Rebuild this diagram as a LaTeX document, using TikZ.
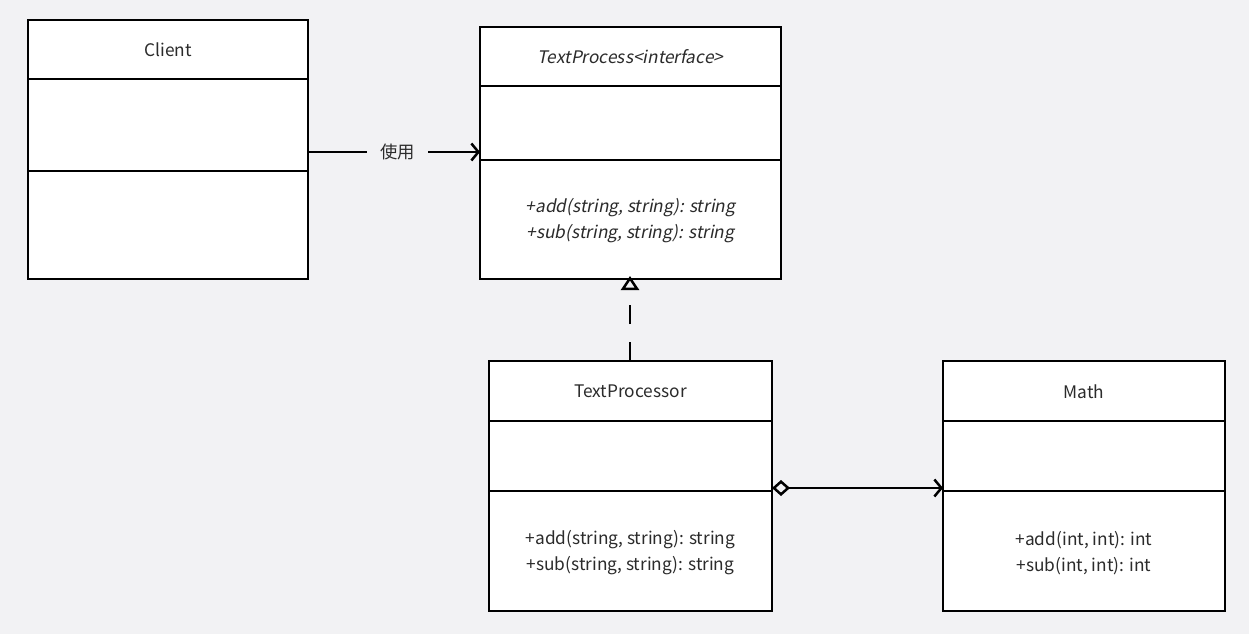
\documentclass[tikz,border=0pt]{standalone}
\usepackage{fontspec}
\setmainfont{Noto Sans CJK SC}[AutoFakeSlant=0.2]
\usetikzlibrary{arrows.meta}
\definecolor{bg}{HTML}{F2F2F4}
\definecolor{txt}{HTML}{2B2B2B}
\begin{document}
\begin{tikzpicture}[x=1pt,y=-1pt,
  umlbox/.style={draw=black,line width=2.5pt,fill=white,anchor=north west,inner sep=0pt,outer sep=0pt},
  divider/.style={line width=2.5pt},
  lbl/.style={text=txt,font=\fontsize{17.3}{26}\selectfont,inner sep=1pt},
  conn/.style={line width=2.5pt}]
\fill[bg] (0,0) rectangle (1249,634);
\useasboundingbox (0,0) rectangle (1249,634);
% boxes
\node[umlbox,minimum width=280pt,minimum height=259pt] (client) at (28,20) {};
\node[umlbox,minimum width=301pt,minimum height=252pt] (iface) at (480,27) {};
\node[umlbox,minimum width=283pt,minimum height=250pt] (tp) at (489,361) {};
\node[umlbox,minimum width=282pt,minimum height=250pt] (math) at (943,361) {};
% dividers
\draw[divider] (28,79) -- (308,79);
\draw[divider] (28,171) -- (308,171);
\draw[divider] (480,86) -- (781,86);
\draw[divider] (480,160) -- (781,160);
\draw[divider] (489,421) -- (772,421);
\draw[divider] (489,491) -- (772,491);
\draw[divider] (943,421) -- (1225,421);
\draw[divider] (943,491) -- (1225,491);
% texts
\node[lbl] (clientT) at (168,50) {Client};
\node[lbl] (ifaceT) at (630.5,57) {\itshape TextProcess<interface>};
\node[lbl,align=center] (ifaceM) at (630.5,221) {\itshape +add(string, string): string\\\itshape +sub(string, string): string};
\node[lbl] (tpT) at (630.5,391.5) {TextProcessor};
\node[lbl,align=center] (tpM) at (630.5,553) {+add(string, string): string\\+sub(string, string): string};
\node[lbl] (mathT) at (1084,391.5) {Math};
\node[lbl,align=center] (mathM) at (1084,553) {+add(int, int): int\\+sub(int, int): int};
% connectors
\coordinate (c1) at (308,152);
\coordinate (c2) at (480,152);
\draw[conn,-{Straight Barb[length=7pt,width=17pt,line width=2.5pt]}] (c1) -- node[lbl,pos=0.52,fill=bg,inner xsep=13pt,inner ysep=2pt] {使用} (c2);
\coordinate (r1) at (630,361);
\coordinate (r2) at (630,276);
\draw[conn,dash pattern=on 19pt off 18pt,-{Triangle[open,length=14pt,width=18pt,line width=2.5pt]}] (r1) -- (r2);
\coordinate (a1) at (772,488);
\coordinate (a2) at (943,488);
\draw[conn,{Diamond[open,length=18pt,width=16pt,line width=2.5pt]}-{Straight Barb[length=7pt,width=17pt,line width=2.5pt]}] (a1) -- (a2);
\end{tikzpicture}
\end{document}
